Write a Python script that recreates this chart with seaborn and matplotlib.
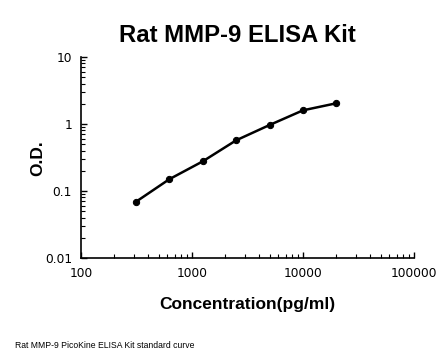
import numpy as np
import pandas as pd
import matplotlib
matplotlib.use("Agg")
import matplotlib.pyplot as plt
import matplotlib.ticker as mticker
import seaborn as sns

# standard curve values
concentration = [312.5, 625, 1250, 2500, 5000, 10000, 20000]
od = [0.069, 0.15, 0.277, 0.571, 0.966, 1.60, 2.04]

x_ticks = [100, 1000, 10000, 100000]
x_tick_labels = ["100", "1000", "10000", "100000"]
y_ticks = [0.01, 0.1, 1, 10]
y_tick_labels = ["0.01", "0.1", "1", "10"]

df = pd.DataFrame({"conc": concentration, "od": od})

sns.set_style("white")
plt.rcParams["font.family"] = ["DejaVu Sans"]
plt.rcParams["text.color"] = "black"

fig = plt.figure(figsize=(4.48, 3.61), dpi=100)
ax = fig.add_axes([81 / 448, 1 - 258 / 361, (414 - 81) / 448, (258 - 57) / 361])

sns.lineplot(data=df, x="conc", y="od", ax=ax, color="black", linewidth=1.8,
             marker="o", markersize=4.5, markeredgecolor="black")

ax.set_xscale("log")
ax.set_yscale("log")
ax.set_xlim(100, 100000)
ax.set_ylim(0.01, 10)

ax.set_xticks(x_ticks)
ax.set_xticklabels(x_tick_labels)
ax.set_yticks(y_ticks)
ax.set_yticklabels(y_tick_labels)
ax.xaxis.set_minor_locator(mticker.LogLocator(base=10, subs=np.arange(2, 10)))
ax.yaxis.set_minor_locator(mticker.LogLocator(base=10, subs=np.arange(2, 10)))
ax.xaxis.set_minor_formatter(mticker.NullFormatter())
ax.yaxis.set_minor_formatter(mticker.NullFormatter())

ax.tick_params(which="major", direction="in", length=4.5, width=1.0, color="black",
               labelsize=8.8, labelcolor="black", pad=6.5, bottom=True, left=True)
ax.tick_params(which="minor", direction="in", length=3, width=0.8, color="black",
               bottom=True, left=True)

for s in ["top", "right"]:
    ax.spines[s].set_visible(False)
for s in ["left", "bottom"]:
    ax.spines[s].set_color("black")
    ax.spines[s].set_linewidth(1.2)

ax.set_xlabel("")
ax.set_ylabel("")

fig.text(237.5 / 448, 1 - 35 / 361, "Rat MMP-9 ELISA Kit", ha="center", va="center",
         fontsize=17.2, fontweight="bold", family="Liberation Sans", color="black")
fig.text(247.5 / 448, 1 - 305 / 361, "Concentration(pg/ml)", ha="center", va="center",
         fontsize=12.5, fontweight="bold", family="Liberation Sans", color="black")
fig.text(37.5 / 448, 1 - 158 / 361, "O.D.", ha="center", va="center", rotation=90,
         fontsize=12.5, fontweight="bold", family="Liberation Sans", color="black")
fig.text(15 / 448, 1 - 346 / 361, "Rat MMP-9 PicoKine ELISA Kit standard curve",
         ha="left", va="center", fontsize=6.2, family="Liberation Sans", color="black")

fig.savefig("out.png", dpi=100)
